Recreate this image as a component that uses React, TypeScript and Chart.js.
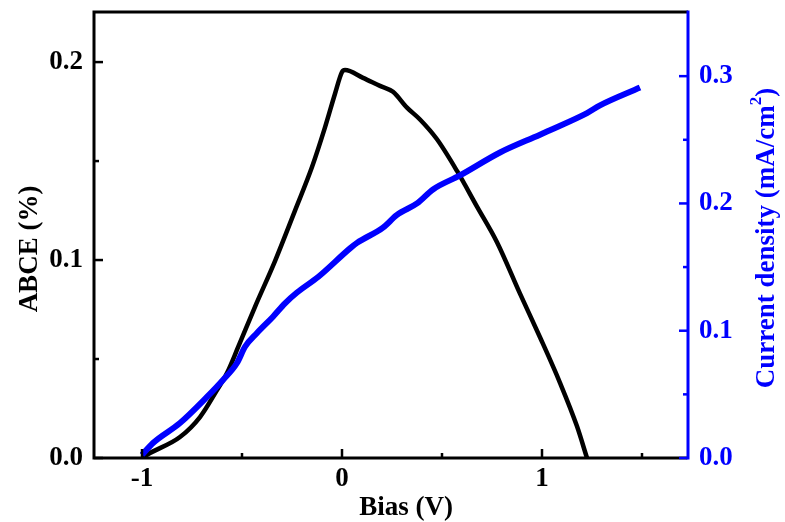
import React, { useEffect, useRef } from "react";
import { Chart, registerables } from "chart.js";

Chart.register(...registerables);

// ABCE (%) vs bias (black, left axis)
const biasBlack = [-1.0, -0.96, -0.81, -0.71, -0.625, -0.575, -0.5185, -0.435, -0.335, -0.235, -0.15, -0.085, -0.035, 0.0, 0.015, 0.105, 0.19, 0.255, 0.325, 0.39, 0.475, 0.575, 0.675, 0.775, 0.89, 0.99, 1.09, 1.175, 1.225];
const abce = [0.0, 0.0025, 0.0106, 0.0207, 0.0343, 0.0429, 0.0562, 0.0764, 0.0995, 0.125, 0.147, 0.167, 0.184, 0.195, 0.196, 0.192, 0.188, 0.185, 0.177, 0.171, 0.161, 0.145, 0.127, 0.109, 0.083, 0.061, 0.038, 0.016, 0.0];

// Current density (mA/cm2) vs bias (blue, right axis)
const biasBlue = [-1.0, -0.945, -0.81, -0.675, -0.595, -0.525, -0.485, -0.425, -0.345, -0.285, -0.225, -0.118, 0.04, 0.075, 0.205, 0.275, 0.375, 0.455, 0.59, 0.79, 0.99, 1.025, 1.225, 1.29, 1.49];
const currentDensity = [0.0024, 0.0118, 0.0275, 0.048, 0.0613, 0.0746, 0.0874, 0.0982, 0.111, 0.1215, 0.13, 0.1424, 0.1647, 0.169, 0.181, 0.191, 0.2, 0.211, 0.222, 0.24, 0.254, 0.2565, 0.271, 0.277, 0.291];

const xMajorTicks = [-1, 0, 1];
const xMinorTicks = [-0.5, 0.5, 1.5];
const leftMajorTicks = [0, 0.1, 0.2];
const leftMinorTicks = [0.05, 0.15];
const rightMajorTicks = [0, 0.1, 0.2, 0.3];
const rightMinorTicks = [0.05, 0.15, 0.25];

const xTitle = "Bias (V)";
const leftTitle = "ABCE (%)";
const rightTitleMain = "Current density (mA/cm";
const rightTitleSup = "2";
const rightTitleEnd = ")";

const BLUE = "#0000ff";
const FONT = '"Liberation Serif", "Times New Roman", serif';

const framePlugin = {
  id: "frame",
  afterDraw(chart: any) {
    const ctx = chart.ctx;
    const a = chart.chartArea;
    const xs = chart.scales.x;
    const yl = chart.scales.y;
    const yr = chart.scales.y1;
    ctx.save();
    ctx.lineWidth = 3;
    ctx.lineCap = "butt";
    // box
    ctx.strokeStyle = "#000";
    ctx.beginPath();
    ctx.moveTo(a.right, a.top);
    ctx.lineTo(a.left, a.top);
    ctx.lineTo(a.left, a.bottom);
    ctx.lineTo(a.right - 1, a.bottom);
    ctx.stroke();
    ctx.strokeStyle = BLUE;
    ctx.beginPath();
    ctx.moveTo(a.right, a.top - 1.5);
    ctx.lineTo(a.right, a.bottom + 1.5);
    ctx.stroke();

    ctx.lineWidth = 2.5;
    ctx.strokeStyle = "#000";
    const drawX = (vals: number[], len: number) => {
      vals.forEach((v) => {
        const px = xs.getPixelForValue(v);
        ctx.beginPath();
        ctx.moveTo(px, a.bottom);
        ctx.lineTo(px, a.bottom - len);
        ctx.stroke();
      });
    };
    drawX(xMajorTicks, 9);
    drawX(xMinorTicks, 5);
    const drawL = (vals: number[], len: number) => {
      vals.forEach((v) => {
        const py = yl.getPixelForValue(v);
        ctx.beginPath();
        ctx.moveTo(a.left, py);
        ctx.lineTo(a.left + len, py);
        ctx.stroke();
      });
    };
    drawL(leftMajorTicks, 9);
    drawL(leftMinorTicks, 5);
    ctx.strokeStyle = BLUE;
    const drawR = (vals: number[], len: number) => {
      vals.forEach((v) => {
        const py = yr.getPixelForValue(v);
        ctx.beginPath();
        ctx.moveTo(a.right, py);
        ctx.lineTo(a.right - len, py);
        ctx.stroke();
      });
    };
    drawR(rightMajorTicks, 9);
    drawR(rightMinorTicks, 5);

    // titles
    ctx.textBaseline = "middle";
    ctx.textAlign = "center";
    ctx.fillStyle = "#000";
    ctx.font = `bold 27px ${FONT}`;
    ctx.fillText(xTitle, (a.left + a.right) / 2 + 15, 508);

    ctx.save();
    ctx.translate(30, 249);
    ctx.rotate(-Math.PI / 2);
    ctx.fillText(leftTitle, 0, 0);
    ctx.restore();

    ctx.save();
    ctx.fillStyle = BLUE;
    ctx.translate(767, 238);
    ctx.rotate(-Math.PI / 2);
    ctx.textAlign = "left";
    const mainFont = `bold 27px ${FONT}`;
    const supFont = `bold 17px ${FONT}`;
    ctx.font = mainFont;
    const w1 = ctx.measureText(rightTitleMain).width;
    const w3 = ctx.measureText(rightTitleEnd).width;
    ctx.font = supFont;
    const w2 = ctx.measureText(rightTitleSup).width;
    const total = w1 + w2 + w3;
    let x0 = -total / 2;
    ctx.font = mainFont;
    ctx.fillText(rightTitleMain, x0, 0);
    x0 += w1;
    ctx.font = supFont;
    ctx.fillText(rightTitleSup, x0, -10);
    x0 += w2;
    ctx.font = mainFont;
    ctx.fillText(rightTitleEnd, x0, 0);
    ctx.restore();

    ctx.restore();
  },
};

export default function App() {
  const ref = useRef<HTMLCanvasElement | null>(null);

  useEffect(() => {
    if (!ref.current) return;
    const blackData = biasBlack.map((x, i) => ({ x, y: abce[i] }));
    const blueData = biasBlue.map((x, i) => ({ x, y: currentDensity[i] }));
    const tickFont = { family: FONT, size: 27, weight: "bold" as const };
    const chart = new Chart(ref.current, {
      type: "scatter",
      data: {
        datasets: [
          {
            label: "ABCE",
            data: blackData,
            showLine: true,
            borderColor: "#000",
            borderWidth: 4.5,
            pointRadius: 0,
            cubicInterpolationMode: "monotone",
            yAxisID: "y",
            order: 2,
          },
          {
            label: "Current density",
            data: blueData,
            showLine: true,
            borderColor: BLUE,
            borderWidth: 6,
            pointRadius: 0,
            cubicInterpolationMode: "monotone",
            yAxisID: "y1",
            order: 1,
          },
        ],
      },
      options: {
        animation: false,
        responsive: false,
        maintainAspectRatio: false,
        layout: { padding: { top: 12, left: 0, right: 0, bottom: 0 } },
        plugins: {
          legend: { display: false },
          tooltip: { enabled: false },
        },
        scales: {
          x: {
            type: "linear",
            position: "bottom",
            min: -1.24,
            max: 1.73,
            grid: { display: false, drawTicks: false },
            border: { display: false },
            ticks: {
              stepSize: 1,
              includeBounds: false,
              color: "#000",
              font: tickFont,
              padding: 5,
              maxRotation: 0,
              callback: (v: any) => (Number.isInteger(Number(v)) ? String(v) : ""),
            },
            afterFit: (s: any) => {
              s.height = 64;
              s.paddingLeft = 0;
              s.paddingRight = 0;
            },
          },
          y: {
            type: "linear",
            position: "left",
            min: 0,
            max: 0.2253,
            grid: { display: false, drawTicks: false },
            border: { display: false },
            ticks: {
              stepSize: 0.1,
              includeBounds: false,
              color: "#000",
              font: tickFont,
              padding: 11,
              callback: (v: any) => Number(v).toFixed(1),
            },
            afterFit: (s: any) => {
              s.width = 94;
              s.paddingTop = 0;
              s.paddingBottom = 0;
            },
          },
          y1: {
            type: "linear",
            position: "right",
            min: 0,
            max: 0.3504,
            grid: { display: false, drawTicks: false },
            border: { display: false },
            ticks: {
              stepSize: 0.1,
              includeBounds: false,
              color: BLUE,
              font: tickFont,
              padding: 11,
              callback: (v: any) => Number(v).toFixed(1),
            },
            afterFit: (s: any) => {
              s.width = 97;
              s.paddingTop = 0;
              s.paddingBottom = 0;
            },
          },
        },
      },
      plugins: [framePlugin],
    });
    return () => chart.destroy();
  }, []);

  return (
    <div style={{ position: "absolute", left: 0, top: 0, width: 785, height: 522, background: "#fff" }}>
      <canvas ref={ref} width={785} height={522} style={{ width: 785, height: 522 }} />
    </div>
  );
}
